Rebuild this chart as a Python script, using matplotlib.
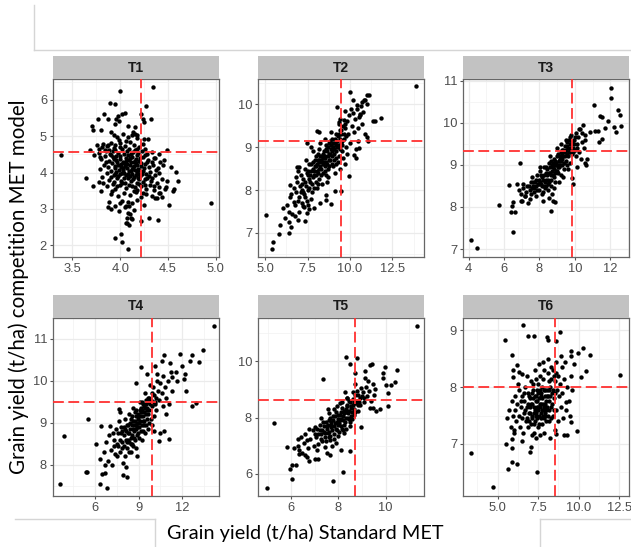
import matplotlib
matplotlib.use('Agg')
import matplotlib.pyplot as plt
from matplotlib.ticker import AutoMinorLocator
from matplotlib.lines import Line2D

plt.rcParams['font.family'] = ['Liberation Sans', 'DejaVu Sans']

# --- data (x = Standard MET, y = competition MET model) ---
t1_points = [
    (3.385, 4.48), (4.0, 6.23), (4.34, 6.36), (3.89, 5.92), (3.95, 5.89), (4.27, 5.83),
    (3.83, 5.62), (3.87, 5.46), (3.77, 5.46), (4.05, 5.64), (4.02, 5.6), (4.22, 5.62),
    (4.24, 5.48), (4.25, 5.39), (4.32, 5.48), (3.98, 5.54), (3.96, 5.48), (3.99, 5.41),
    (3.70, 5.27), (3.72, 5.18), (3.80, 5.16), (3.90, 5.12), (3.94, 5.33), (4.13, 5.12),
    (4.15, 5.24), (4.08, 5.27), (4.25, 4.93), (4.29, 4.91), (4.15, 5.07), (4.18, 5.03),
    (3.76, 4.75), (3.78, 4.66), (3.81, 4.71), (3.87, 4.77), (3.84, 4.62), (3.68, 4.63),
    (3.73, 4.48), (3.79, 4.43), (4.49, 4.62), (4.36, 4.41), (4.46, 4.34), (4.53, 4.16),
    (4.58, 4.02), (4.6, 3.78), (4.49, 3.78), (4.48, 3.61), (4.42, 3.43), (4.38, 3.29),
    (4.44, 3.34), (4.51, 3.11), (4.56, 3.56), (4.55, 3.48), (4.95, 3.15), (4.30, 2.75),
    (4.39, 2.70), (4.22, 2.68), (4.11, 2.75), (4.06, 2.61), (4.07, 2.75), (4.08, 2.88),
    (3.95, 2.19), (4.01, 2.31), (4.02, 2.08), (4.08, 1.90), (3.64, 3.84), (3.72, 3.63),
    (3.80, 3.48), (3.88, 3.20), (3.87, 3.05), (3.90, 3.0), (3.94, 3.08), (3.99, 2.93),
    (4.0, 3.16), (4.06, 3.07), (4.09, 3.07), (4.08, 3.2), (3.79, 4.1), (3.81, 3.87),
    (3.78, 3.75),
    (3.93, 5.02), (3.97, 4.97), (4.03, 5.05), (4.08, 4.99), (4.12, 5.04), (4.17, 4.95),
    (3.99, 4.9), (4.06, 4.88), (3.82, 4.78), (3.86, 4.72), (3.9, 4.82), (3.95, 4.76),
    (4.0, 4.8), (4.05, 4.73), (4.1, 4.84), (4.14, 4.76), (4.2, 4.7), (4.24, 4.79),
    (3.93, 4.68), (3.78, 4.55), (3.85, 4.6), (3.89, 4.52), (3.94, 4.63), (3.98, 4.55),
    (4.02, 4.64), (4.07, 4.58), (4.11, 4.51), (4.15, 4.62), (4.19, 4.55), (4.23, 4.6),
    (4.28, 4.52), (4.33, 4.57), (4.4, 4.5), (3.8, 4.38), (3.84, 4.45), (3.88, 4.32),
    (3.92, 4.42), (3.96, 4.35), (4.0, 4.46), (4.03, 4.3), (4.06, 4.41), (4.09, 4.34),
    (4.12, 4.44), (4.16, 4.37), (4.2, 4.31), (4.24, 4.43), (4.29, 4.35), (4.35, 4.4),
    (4.42, 4.3), (3.9, 4.48), (4.14, 4.29), (3.83, 4.2), (3.87, 4.15), (3.91, 4.25),
    (3.95, 4.12), (3.98, 4.22), (4.01, 4.16), (4.04, 4.27), (4.07, 4.13), (4.1, 4.21),
    (4.13, 4.15), (4.16, 4.26), (4.19, 4.11), (4.22, 4.19), (4.26, 4.23), (4.3, 4.14),
    (4.34, 4.2), (4.39, 4.12), (4.45, 4.22), (4.05, 4.19), (3.97, 4.28), (3.86, 3.98),
    (3.9, 4.05), (3.93, 3.93), (3.96, 4.02), (4.0, 3.95), (4.03, 4.06), (4.06, 3.92),
    (4.09, 4.03), (4.12, 3.96), (4.15, 4.08), (4.18, 3.99), (4.21, 3.91), (4.24, 4.04),
    (4.27, 3.95), (4.31, 4.01), (4.36, 3.93), (4.41, 4.0), (4.12, 4.1), (4.02, 4.0),
    (3.88, 3.8), (3.93, 3.74), (3.97, 3.86), (4.01, 3.78), (4.05, 3.71), (4.08, 3.84),
    (4.11, 3.76), (4.14, 3.88), (4.17, 3.72), (4.2, 3.82), (4.24, 3.75), (4.28, 3.86),
    (4.32, 3.78), (4.38, 3.72), (4.44, 3.82), (3.82, 3.71), (3.86, 3.62), (3.95, 3.55),
    (4.0, 3.66), (4.06, 3.58), (4.12, 3.64), (4.18, 3.52), (4.22, 3.62), (4.27, 3.56),
    (4.31, 3.67), (4.35, 3.52), (4.4, 3.6), (4.47, 3.55), (3.91, 3.5), (3.9, 3.42),
    (3.98, 3.35), (4.04, 3.45), (4.1, 3.38), (4.16, 3.46), (4.22, 3.33), (4.27, 3.42),
    (4.33, 3.36), (4.4, 3.45), (4.36, 3.29), (4.02, 3.22), (4.12, 3.15), (4.18, 3.25),
    (4.25, 3.1), (4.05, 3.05), (4.14, 2.98), (4.1, 2.85), (4.12, 2.72), (4.07, 2.62),
    (4.09, 2.57),
    (3.92, 4.58), (3.96, 4.45), (4.0, 4.38), (4.04, 4.52), (4.08, 4.47), (4.1, 4.4),
    (4.13, 4.56), (4.17, 4.48), (4.21, 4.4), (4.26, 4.47), (3.94, 4.18), (3.99, 4.08),
    (4.03, 4.13), (4.07, 4.24), (4.11, 4.05), (4.14, 4.19), (4.18, 4.22), (4.2, 4.06),
    (4.25, 4.12), (4.28, 4.3), (3.95, 3.97), (3.98, 3.9), (4.04, 3.85), (4.08, 3.96),
    (4.13, 3.82), (4.16, 3.93), (4.19, 3.86), (4.23, 3.97), (4.26, 3.81), (4.3, 3.9),
    (3.9, 3.88), (3.85, 4.3), (3.88, 4.62), (4.0, 4.7), (4.09, 4.65), (4.18, 4.66),
    (4.26, 4.65), (4.33, 4.28), (4.37, 4.07), (4.33, 3.85), (4.02, 3.7), (4.09, 3.65),
    (4.15, 3.6), (4.2, 3.68), (4.26, 3.65), (4.35, 3.62), (4.14, 3.5), (4.24, 3.45),
    (3.97, 3.62), (3.92, 3.68), (4.06, 4.33), (4.15, 4.33), (3.93, 4.36), (4.01, 4.24),
    (4.11, 4.28), (4.22, 4.26), (4.04, 3.99), (4.17, 4.03), (4.1, 3.9), (4.2, 3.97),
]

t2_points = [
    (5.05, 7.41), (5.4, 6.63), (5.48, 6.78), (5.83, 6.98), (5.87, 7.19), (6.07, 7.59),
    (6.19, 7.35), (6.43, 7.48), (6.43, 7.01), (6.47, 7.83), (6.47, 8.12), (6.72, 7.73),
    (6.78, 7.40), (6.92, 7.31), (6.98, 7.5), (6.82, 8.31), (6.86, 8.53), (7.02, 8.53),
    (7.22, 7.62), (7.38, 7.27), (7.46, 7.46), (7.51, 7.66), (7.61, 7.56), (7.91, 7.58),
    (8.21, 7.70), (8.56, 7.77), (8.9, 7.68), (8.56, 7.89), (9.1, 7.97), (9.48, 7.97),
    (7.46, 9.09), (8.07, 9.38), (8.17, 9.36), (9.24, 9.94), (9.34, 9.59), (9.69, 9.84),
    (9.40, 9.65), (9.63, 9.63), (9.99, 10.29), (10.15, 10.11), (10.39, 9.99), (10.68, 10.05),
    (10.88, 10.09), (11.02, 10.21), (11.14, 10.21), (10.98, 10.0), (10.74, 9.82), (10.58, 9.78),
    (10.54, 9.71), (11.34, 9.61), (11.48, 9.61), (11.83, 9.69), (13.89, 10.42), (10.98, 9.24),
    (11.04, 9.14), (10.35, 8.96), (10.52, 8.97), (10.23, 8.82), (10.35, 8.74), (9.95, 8.34),
    (6.85, 7.95), (6.9, 8.2), (7.0, 7.85), (7.05, 8.1), (7.1, 8.35), (7.15, 7.7),
    (7.2, 8.0), (6.95, 8.45), (7.25, 8.25), (7.3, 7.9), (7.35, 8.5), (7.4, 8.1),
    (7.45, 7.75), (7.5, 8.35), (7.55, 8.0), (7.6, 8.6), (7.28, 7.6), (7.42, 8.7),
    (7.65, 8.2), (7.7, 8.45), (7.75, 7.95), (7.8, 8.65), (7.85, 8.3), (7.9, 8.05),
    (7.95, 8.55), (8.0, 8.8), (7.68, 7.8), (7.82, 8.9), (7.98, 8.2), (7.72, 9.0),
    (8.05, 8.45), (8.1, 8.7), (8.15, 8.25), (8.2, 8.95), (8.25, 8.55), (8.3, 8.35),
    (8.35, 8.8), (8.4, 8.6), (8.08, 8.05), (8.22, 9.1), (8.38, 8.15), (8.12, 8.85),
    (8.28, 8.7), (8.18, 8.5), (8.45, 8.9), (8.5, 8.45), (8.55, 8.75), (8.6, 9.05),
    (8.65, 8.6), (8.7, 8.3), (8.75, 8.85), (8.8, 9.15), (8.48, 8.65), (8.62, 8.2),
    (8.72, 9.0), (8.58, 8.95), (8.68, 8.8), (8.52, 9.2), (8.85, 8.7), (8.9, 8.95),
    (8.95, 9.2), (9.0, 8.55), (9.05, 8.85), (9.1, 9.1), (9.15, 8.75), (9.2, 9.3),
    (8.88, 9.35), (9.02, 9.0), (9.12, 8.4), (9.18, 9.05), (8.92, 8.6), (9.25, 9.0),
    (9.3, 9.25), (9.35, 8.8), (9.4, 9.4), (9.45, 9.1), (9.5, 9.3), (9.55, 8.9),
    (9.6, 9.5), (9.28, 8.65), (9.42, 8.5), (9.52, 9.15), (9.38, 9.55), (9.58, 8.75),
    (9.65, 9.2), (9.7, 9.45), (9.75, 9.0), (9.8, 9.6), (9.9, 9.3), (9.95, 9.75),
    (10.0, 9.1), (10.1, 9.5), (10.15, 9.8), (9.85, 8.85), (10.05, 9.9), (9.72, 8.6),
    (10.25, 9.35), (10.3, 9.65), (10.4, 9.9), (10.5, 9.45), (10.6, 9.75), (10.7, 9.55),
    (10.8, 10.1), (10.9, 9.3), (10.45, 9.15), (10.65, 9.95), (6.3, 7.65), (6.5, 7.9),
    (6.6, 7.45), (6.7, 8.05), (6.4, 7.25), (6.75, 7.65), (6.55, 7.15),
    (7.52, 8.45), (7.62, 8.35), (7.7, 8.6), (7.78, 8.15), (7.88, 8.45), (7.92, 8.7),
    (8.02, 8.35), (8.06, 8.6), (8.14, 8.4), (8.16, 8.65), (8.24, 8.8), (8.32, 8.5),
    (8.34, 8.65), (8.42, 8.85), (8.44, 8.4), (8.5, 8.8), (8.54, 8.55), (8.6, 8.65),
    (8.64, 8.9), (8.7, 8.5), (8.74, 8.7), (8.78, 8.55), (8.82, 8.85), (8.86, 9.05),
    (8.94, 8.8), (8.98, 9.1), (9.04, 8.7), (9.08, 8.95), (9.14, 9.2), (9.2, 8.9),
    (9.22, 9.15), (9.3, 9.05), (9.34, 9.3), (9.4, 8.95), (9.44, 9.2), (9.5, 9.4),
    (9.56, 9.05), (9.62, 9.3), (9.68, 9.55), (9.74, 9.25), (7.58, 8.25), (7.8, 8.5),
    (8.0, 8.55), (8.2, 8.7), (8.4, 8.75), (8.56, 8.35), (8.76, 9.1), (8.96, 8.9),
    (9.16, 8.6), (9.36, 9.0), (7.35, 8.2), (7.15, 8.15), (7.25, 7.95), (7.45, 8.4),
    (6.95, 7.75), (7.1, 7.95), (7.38, 7.85), (7.6, 8.05), (7.9, 8.35), (8.1, 8.15),
]

t3_points = [
    (4.13, 7.22), (4.45, 7.02), (5.69, 8.04), (6.37, 7.87), (6.64, 7.88), (6.5, 7.41),
    (6.31, 8.53), (6.45, 8.02), (6.5, 8.11), (6.92, 9.05), (6.71, 8.54), (6.82, 8.40),
    (6.98, 8.14), (7.17, 8.26), (8.68, 7.9), (8.78, 8.14), (8.87, 8.11), (8.53, 8.22),
    (9.91, 8.55), (9.82, 8.68), (10.10, 8.96), (10.58, 9.04), (10.64, 9.0), (10.67, 9.15),
    (10.58, 9.58), (10.86, 9.78), (11.15, 9.81), (11.11, 10.42), (11.43, 10.17), (11.53, 10.13),
    (11.3, 9.81), (11.53, 9.62), (11.34, 9.54), (11.87, 10.05), (12.04, 10.83), (12.04, 10.59),
    (12.19, 9.9), (12.34, 9.78), (12.44, 10.3), (12.57, 10.19), (12.61, 9.93), (11.72, 9.87),
    (6.95, 8.3), (7.0, 8.15), (7.1, 8.45), (7.2, 8.25), (7.3, 8.5), (7.35, 8.1),
    (7.05, 8.55), (7.25, 8.35), (7.45, 8.4), (7.5, 8.6), (7.55, 8.3), (7.6, 8.7),
    (7.7, 8.45), (7.75, 8.6), (7.8, 8.25), (7.85, 8.75), (7.65, 8.5), (7.48, 8.2),
    (7.9, 8.55), (7.95, 8.65), (8.0, 8.4), (8.05, 8.85), (8.1, 8.55), (8.15, 8.7),
    (8.2, 8.35), (8.25, 8.95), (8.3, 8.6), (8.35, 8.8), (8.4, 8.5), (8.02, 8.95),
    (8.18, 8.15), (8.28, 8.75), (8.12, 8.3), (8.45, 8.9), (8.5, 8.65), (8.55, 9.05),
    (8.6, 8.8), (8.65, 8.5), (8.7, 9.0), (8.75, 8.75), (8.8, 9.15), (8.85, 8.9),
    (8.9, 8.6), (8.48, 8.4), (8.62, 9.2), (8.72, 8.3), (8.58, 8.95), (8.82, 8.45),
    (8.68, 9.1), (8.95, 9.05), (9.0, 8.85), (9.05, 9.25), (9.1, 8.95), (9.15, 9.15),
    (9.2, 8.75), (9.25, 9.35), (9.3, 9.0), (9.35, 9.2), (9.4, 8.9), (8.98, 9.4),
    (9.12, 8.6), (9.22, 9.5), (9.32, 8.7), (9.08, 9.1), (9.28, 9.28), (9.45, 9.3),
    (9.5, 9.1), (9.55, 9.45), (9.6, 9.2), (9.65, 9.6), (9.7, 9.35), (9.75, 9.05),
    (9.8, 9.5), (9.85, 9.25), (9.48, 9.6), (9.62, 8.9), (9.78, 9.7), (9.58, 9.0),
    (9.9, 9.4), (9.95, 9.6), (10.0, 9.35), (10.05, 9.75), (10.1, 9.5), (10.2, 9.65),
    (10.25, 9.3), (10.3, 9.85), (10.4, 9.55), (10.45, 9.95), (10.5, 9.4), (10.55, 9.7),
    (10.08, 9.2), (10.35, 9.15),
    (8.06, 8.6), (8.14, 8.5), (8.22, 8.65), (8.32, 8.45), (8.38, 8.65), (8.44, 8.75),
    (8.52, 8.8), (8.56, 8.6), (8.64, 8.75), (8.7, 8.85), (8.76, 8.95), (8.8, 8.7),
    (8.86, 8.8), (8.9, 9.0), (8.94, 8.85), (9.0, 9.0), (9.04, 8.95), (9.1, 9.1),
    (9.14, 9.0), (9.18, 9.2), (9.24, 9.1), (9.3, 9.15), (9.34, 9.35), (9.38, 9.05),
    (9.44, 9.2), (9.5, 9.35), (9.54, 9.25), (9.6, 9.4), (9.66, 9.3), (9.7, 9.5),
    (9.76, 9.4), (9.82, 9.35), (9.86, 9.55), (9.92, 9.3), (9.98, 9.5), (8.26, 8.5),
    (8.46, 8.55), (8.66, 8.65), (8.86, 9.1), (9.06, 8.8), (7.58, 8.45), (7.68, 8.35),
    (7.78, 8.5), (7.88, 8.4), (7.98, 8.55), (7.42, 8.5), (7.62, 8.6), (7.82, 8.65),
    (8.08, 8.75), (8.36, 8.95), (9.44, 9.45), (9.2, 9.3), (9.0, 9.2), (8.78, 9.05),
    (9.56, 9.55), (9.72, 9.65), (10.02, 9.65), (10.15, 9.4), (10.22, 9.85), (10.38, 9.75),
]

t4_points = [
    (3.62, 7.55), (3.86, 8.68), (5.51, 9.09), (5.41, 7.84), (5.5, 7.84), (6.12, 8.50),
    (6.35, 8.14), (6.35, 7.55), (6.52, 7.79), (6.82, 7.46), (6.68, 7.8), (6.40, 8.93),
    (7.04, 8.93), (7.69, 9.32), (7.76, 9.26), (8.16, 7.94), (8.24, 7.71), (7.93, 7.75),
    (8.87, 8.2), (8.82, 9.95), (9.18, 10.32), (9.58, 10.15), (10.16, 10.35), (10.28, 10.15),
    (10.64, 10.48), (10.72, 10.61), (11.18, 10.41), (11.29, 10.09), (11.58, 10.21), (11.66, 9.99),
    (11.86, 10.64), (11.98, 10.35), (12.16, 10.15), (12.12, 10.03), (12.24, 9.76), (12.52, 10.46),
    (12.66, 10.61), (12.64, 9.40), (12.94, 9.48), (13.11, 10.45), (13.39, 10.72), (14.16, 11.31),
    (10.40, 8.57), (11.11, 8.61), (10.75, 8.81), (10.45, 8.75), (10.05, 8.81),
    (6.6, 8.3), (6.8, 8.55), (6.9, 8.1), (7.0, 8.7), (7.1, 8.35), (7.2, 8.0),
    (7.3, 8.6), (7.4, 8.25), (6.7, 8.0), (7.45, 8.85), (7.55, 8.5), (7.6, 8.75),
    (7.7, 8.3), (7.8, 8.9), (7.9, 8.55), (8.0, 8.7), (8.1, 8.2), (8.2, 8.95),
    (7.65, 9.05), (7.85, 8.4), (8.05, 9.1), (8.25, 8.6), (7.95, 8.05), (8.15, 8.8),
    (8.35, 8.75), (8.4, 9.0), (8.5, 8.5), (8.55, 9.15), (8.6, 8.85), (8.7, 8.65),
    (8.75, 9.25), (8.8, 8.95), (8.9, 8.7), (8.95, 9.1), (8.45, 8.3), (8.65, 9.35),
    (8.85, 8.4), (8.38, 9.2), (8.58, 8.7), (8.78, 9.05), (8.92, 8.9), (9.05, 9.0),
    (9.1, 9.3), (9.15, 8.8), (9.2, 9.15), (9.3, 9.45), (9.35, 8.95), (9.4, 9.25),
    (9.5, 9.55), (9.55, 9.1), (9.6, 9.35), (9.65, 8.85), (9.25, 8.6), (9.45, 9.7),
    (9.08, 9.5), (9.28, 9.05), (9.62, 9.6), (9.18, 9.35), (9.42, 8.75), (9.75, 9.3),
    (9.8, 9.55), (9.85, 9.1), (9.9, 9.7), (9.95, 9.4), (10.0, 9.85), (10.1, 9.5),
    (10.2, 9.3), (10.3, 9.75), (10.4, 9.55), (10.45, 9.95), (9.78, 9.9), (10.05, 9.15),
    (10.25, 10.0), (9.92, 8.95), (10.6, 9.7), (10.7, 9.4), (10.8, 9.85), (10.9, 9.6),
    (11.0, 10.0), (11.1, 9.45), (11.3, 9.75), (10.65, 10.1), (11.2, 10.2), (10.85, 9.2),
    (8.02, 8.45), (8.12, 8.6), (8.22, 8.4), (8.3, 8.75), (8.36, 8.55), (8.42, 8.85),
    (8.48, 8.65), (8.52, 8.95), (8.58, 8.5), (8.62, 9.05), (8.68, 8.8), (8.72, 8.95),
    (8.76, 8.6), (8.82, 9.15), (8.86, 8.85), (8.88, 9.0), (8.94, 8.75), (8.98, 9.2),
    (9.02, 8.9), (9.06, 9.15), (9.12, 9.05), (9.16, 9.25), (9.22, 8.95), (9.26, 9.3),
    (9.32, 9.15), (9.36, 9.4), (9.38, 9.05), (9.44, 9.35), (9.48, 9.2), (9.52, 9.45),
    (9.58, 9.3), (9.64, 9.5), (9.68, 9.2), (9.72, 9.6), (9.82, 9.45), (9.88, 9.55),
    (9.98, 9.5), (10.08, 9.65), (10.15, 9.45), (10.22, 9.6), (7.75, 8.6), (7.82, 8.75),
    (7.9, 8.8), (7.98, 8.9), (8.08, 8.85), (8.18, 8.55), (8.28, 8.95), (8.32, 8.3),
    (8.46, 9.1), (8.64, 8.45), (8.84, 9.3), (9.04, 8.65), (9.24, 9.5), (9.34, 8.8),
    (9.54, 8.95), (9.74, 9.0), (7.5, 8.2), (7.6, 8.45), (7.35, 8.45), (7.25, 8.75),
]

t5_points = [
    (4.98, 5.48), (5.25, 7.81), (5.83, 6.94), (5.93, 6.18), (6.03, 5.82), (6.03, 6.33),
    (6.21, 6.33), (6.31, 6.71), (6.31, 6.83), (6.28, 7.25), (6.57, 6.68), (6.68, 6.59),
    (6.74, 6.45), (6.99, 6.54), (7.13, 6.53), (7.34, 9.37), (7.53, 6.74), (7.63, 6.66),
    (7.77, 5.74), (8.19, 6.06), (8.09, 6.83), (8.47, 6.80), (8.33, 10.17), (8.47, 9.91),
    (8.80, 10.11), (8.69, 9.58), (8.97, 7.65), (9.32, 9.87), (9.42, 9.89), (9.11, 9.66),
    (9.89, 9.58), (9.96, 9.81), (9.89, 9.40), (10.03, 9.16), (10.10, 8.87), (10.10, 8.40),
    (10.24, 9.14), (10.38, 9.28), (10.48, 9.69), (11.34, 11.26), (9.60, 8.24), (9.75, 8.31),
    (9.46, 8.34),
    (6.55, 7.1), (6.6, 7.4), (6.7, 6.9), (6.8, 7.25), (6.9, 7.55), (6.95, 7.0),
    (6.75, 7.6), (6.65, 7.2), (7.05, 7.3), (7.1, 7.6), (7.15, 7.05), (7.2, 7.75),
    (7.25, 7.4), (7.3, 7.15), (7.35, 7.85), (7.4, 7.5), (7.45, 6.95), (7.5, 7.7),
    (7.08, 6.85), (7.28, 8.0), (7.42, 7.3), (7.55, 7.45), (7.6, 7.9), (7.65, 7.2),
    (7.7, 7.65), (7.75, 8.05), (7.8, 7.4), (7.85, 7.8), (7.9, 8.2), (7.95, 7.55),
    (8.0, 7.95), (7.58, 8.15), (7.72, 7.0), (7.88, 7.1), (7.68, 7.85), (7.82, 8.3),
    (7.98, 7.75), (8.05, 8.1), (8.1, 7.7), (8.15, 8.35), (8.2, 7.9), (8.25, 8.15),
    (8.3, 7.6), (8.35, 8.45), (8.4, 8.0), (8.45, 8.25), (8.5, 7.85), (8.08, 8.5),
    (8.22, 7.45), (8.38, 8.7), (8.48, 8.55), (8.12, 7.95), (8.32, 8.2), (8.28, 8.9),
    (8.55, 8.4), (8.6, 8.65), (8.65, 8.1), (8.7, 8.8), (8.75, 8.5), (8.8, 8.95),
    (8.85, 8.25), (8.9, 8.7), (8.95, 9.05), (8.58, 7.95), (8.72, 9.2), (8.92, 8.45),
    (8.68, 8.6), (8.82, 8.8), (9.05, 8.9), (9.1, 8.55), (9.15, 9.1), (9.2, 8.75),
    (9.25, 9.3), (9.3, 8.95), (9.4, 8.6), (9.45, 9.2), (9.5, 8.8), (9.55, 9.0),
    (9.12, 9.4), (9.35, 8.35), (6.1, 6.9), (6.3, 7.0), (6.45, 6.75), (6.4, 7.3),
    (7.32, 7.55), (7.38, 7.7), (7.44, 7.45), (7.48, 7.85), (7.52, 7.6), (7.56, 7.75),
    (7.62, 7.5), (7.66, 8.0), (7.7, 7.75), (7.74, 7.55), (7.78, 7.9), (7.82, 7.7),
    (7.86, 8.05), (7.9, 7.6), (7.94, 7.85), (7.96, 8.1), (8.02, 7.8), (8.06, 7.9),
    (8.1, 8.2), (8.14, 7.6), (8.18, 8.05), (8.22, 8.25), (8.26, 7.85), (8.3, 8.3),
    (8.34, 8.0), (8.38, 8.4), (8.42, 8.15), (8.46, 7.95), (8.52, 8.35), (8.56, 8.2),
    (8.6, 8.45), (8.64, 8.3), (8.68, 8.5), (8.72, 8.2), (8.78, 8.6), (8.84, 8.45),
    (7.6, 7.3), (7.8, 7.25), (8.0, 7.35), (8.2, 7.55), (7.2, 7.55), (7.26, 7.25),
    (7.12, 7.4), (7.0, 7.4), (7.02, 7.65), (8.44, 8.6), (8.62, 8.9), (8.88, 8.55),
    (8.98, 8.75), (9.08, 8.7), (7.54, 8.3), (7.92, 8.4), (8.16, 8.55), (8.36, 8.7),
    (7.46, 7.15), (7.66, 7.35), (8.04, 7.5), (8.24, 7.75), (8.48, 7.7), (8.54, 8.05),
]

t6_points = [
    (3.36, 6.84), (4.73, 6.23), (5.45, 8.84), (6.54, 9.09), (6.89, 8.91), (7.26, 8.91),
    (5.86, 8.56), (6.19, 8.39), (5.97, 8.31), (5.92, 8.18), (6.29, 8.27), (6.48, 8.24),
    (5.99, 7.2), (5.86, 7.09), (5.88, 6.92), (5.51, 6.99), (5.62, 6.56), (5.86, 6.68),
    (6.17, 6.65), (7.42, 6.5), (7.0, 6.85), (7.09, 6.95), (8.04, 8.88), (8.08, 8.84),
    (8.59, 8.81), (8.86, 8.98), (9.52, 8.64), (9.52, 8.55), (9.99, 8.6), (10.3, 8.69),
    (10.71, 8.56), (10.13, 8.18), (10.44, 8.28), (12.54, 8.22), (9.21, 7.73), (9.93, 7.23),
    (9.56, 7.38), (9.31, 7.15), (9.07, 7.15), (8.59, 7.17),
    (5.6, 7.45), (5.7, 7.6), (5.8, 7.3), (5.9, 7.75), (5.95, 7.5), (6.0, 7.25),
    (6.05, 7.6), (6.1, 7.85), (6.15, 7.4), (6.2, 7.7), (6.3, 7.5), (6.35, 7.95),
    (6.4, 7.3), (6.45, 7.65), (6.5, 7.85), (6.55, 7.2), (6.6, 7.55), (6.65, 7.75),
    (6.7, 8.0), (6.75, 7.4), (6.8, 7.65), (6.85, 7.9), (6.9, 7.3), (6.95, 7.55),
    (7.0, 7.8), (7.05, 8.1), (7.1, 7.45), (7.15, 7.7), (7.2, 7.95), (7.25, 7.2),
    (7.3, 7.6), (7.35, 7.85), (7.4, 7.5), (7.45, 7.75), (7.5, 8.05), (7.55, 7.35),
    (7.6, 7.65), (7.65, 7.9), (7.7, 7.55), (7.75, 7.8), (7.8, 8.15), (7.85, 7.45),
    (7.9, 7.7), (7.95, 7.95), (8.0, 7.6), (8.05, 7.85), (8.1, 8.25), (8.15, 7.4),
    (8.2, 7.75), (8.25, 8.0), (8.3, 7.65), (8.35, 7.9), (8.4, 8.3), (8.45, 7.5),
    (8.5, 7.8), (8.55, 8.1), (8.6, 7.6), (8.65, 7.95), (8.7, 8.2), (8.75, 7.4),
    (8.8, 7.85), (8.85, 8.05), (8.9, 7.65), (8.95, 8.35), (9.0, 7.9), (9.1, 8.15),
    (9.2, 7.6), (9.3, 8.0), (9.4, 7.75), (9.5, 8.2), (7.12, 7.15), (7.38, 7.1),
    (7.62, 7.15), (7.88, 7.2), (6.82, 8.2), (7.28, 8.3), (7.58, 8.4), (7.78, 8.45),
    (8.08, 8.5), (6.48, 7.05), (7.52, 7.6), (7.68, 7.7), (7.42, 7.65), (7.82, 7.6),
    (7.22, 7.55), (7.92, 7.5), (7.48, 7.9), (7.72, 8.0), (6.98, 7.65), (8.18, 7.95),
    (8.62, 8.45), (8.9, 8.55), (9.15, 8.45), (9.6, 7.95), (9.7, 8.4), (8.52, 7.25),
    (8.22, 7.1), (9.05, 7.45), (9.45, 7.5), (6.25, 8.05),
    (6.82, 7.45), (6.88, 7.7), (6.92, 7.85), (6.96, 7.4), (7.02, 7.55), (7.06, 7.7),
    (7.1, 7.9), (7.14, 7.5), (7.18, 7.8), (7.22, 7.35), (7.26, 7.65), (7.3, 7.85),
    (7.34, 7.55), (7.38, 7.75), (7.42, 7.95), (7.46, 7.45), (7.5, 7.65), (7.54, 7.8),
    (7.56, 7.5), (7.6, 7.95), (7.64, 7.7), (7.66, 7.45), (7.7, 7.85), (7.74, 7.6),
    (7.78, 7.7), (7.8, 7.5), (7.84, 7.95), (7.86, 7.65), (7.9, 7.85), (7.94, 7.55),
    (7.98, 7.75), (8.02, 7.95), (8.06, 7.65), (8.1, 7.5), (8.12, 7.85), (8.16, 8.1),
    (8.2, 7.6), (8.24, 7.85), (8.28, 7.45), (8.32, 8.15), (8.36, 7.7), (8.42, 7.95),
    (8.46, 8.2), (8.5, 7.6), (8.56, 7.9), (8.6, 8.25), (6.72, 7.6), (6.62, 7.9),
    (6.52, 7.45), (6.42, 7.75), (7.04, 7.35), (7.28, 7.4), (7.52, 7.3), (7.76, 7.35),
    (8.0, 7.4), (7.16, 8.05), (7.4, 8.15), (7.62, 8.2), (7.88, 8.3), (8.3, 8.35),
]

panel_names = ['T1', 'T2', 'T3', 'T4', 'T5', 'T6']
panel_points = [t1_points, t2_points, t3_points, t4_points, t5_points, t6_points]
# mean lines (vertical = Standard MET mean, horizontal = competition model mean)
mean_x = [4.22, 9.5, 9.82, 9.94, 8.71, 8.55]
mean_y = [4.56, 9.14, 9.33, 9.49, 8.63, 8.0]

x_ticks = [[3.5, 4.0, 4.5, 5.0], [5.0, 7.5, 10.0, 12.5], [4, 6, 8, 10, 12],
           [6, 9, 12], [6, 8, 10], [5.0, 7.5, 10.0, 12.5]]
x_labels = [['3.5', '4.0', '4.5', '5.0'], ['5.0', '7.5', '10.0', '12.5'], ['4', '6', '8', '10', '12'],
            ['6', '9', '12'], ['6', '8', '10'], ['5.0', '7.5', '10.0', '12.5']]
y_ticks = [[2, 3, 4, 5, 6], [7, 8, 9, 10], [7, 8, 9, 10, 11], [8, 9, 10, 11], [6, 8, 10], [7, 8, 9]]

x_lims = [(3.30, 5.03), (4.6, 14.35), (3.7, 13.05), (3.16, 14.5), (4.6, 11.62), (2.88, 13.1)]
y_lims = [(1.68, 6.57), (6.44, 10.59), (6.81, 11.04), (7.26, 11.49), (5.21, 11.54), (6.08, 9.22)]

W, H = 631, 547
fig = plt.figure(figsize=(W / 100, H / 100), dpi=100)

col_left = [53.3, 258.3, 463.3]
col_width = 165.5
row_top = [79, 318]
panel_h = 178
strip_h = 23

for i, name in enumerate(panel_names):
    r, c = divmod(i, 3)
    left = col_left[c] / W
    bottom = 1 - (row_top[r] + panel_h) / H
    ax = fig.add_axes([left, bottom, col_width / W, panel_h / H])
    xs = [p[0] for p in panel_points[i]]
    ys = [p[1] for p in panel_points[i]]
    ax.scatter(xs, ys, s=10, color='black', linewidths=0, zorder=3)
    ax.axvline(mean_x[i], color='#FF3030', lw=1.3, dashes=(6, 2.5), zorder=4)
    ax.axhline(mean_y[i], color='#FF3030', lw=1.3, dashes=(6, 2.5), zorder=4)
    ax.set_xlim(*x_lims[i])
    ax.set_ylim(*y_lims[i])
    ax.set_xticks(x_ticks[i])
    ax.set_xticklabels(x_labels[i])
    ax.set_yticks(y_ticks[i])
    ax.xaxis.set_minor_locator(AutoMinorLocator(2))
    ax.yaxis.set_minor_locator(AutoMinorLocator(2))
    ax.grid(which='major', color='#EBEBEB', lw=0.9, zorder=0)
    ax.grid(which='minor', color='#F2F2F2', lw=0.5, zorder=0)
    ax.set_axisbelow(True)
    ax.tick_params(which='major', length=2.5, width=0.8, color='#555555',
                   labelsize=9.3, labelcolor='#4D4D4D', pad=2)
    ax.tick_params(which='minor', length=0)
    for sp in ax.spines.values():
        sp.set_color('#666666')
        sp.set_linewidth(0.9)

    sax = fig.add_axes([left, 1 - row_top[r] / H, col_width / W, strip_h / H])
    sax.set_facecolor('#C2C2C2')
    sax.set_xticks([])
    sax.set_yticks([])
    for sp in sax.spines.values():
        sp.set_visible(False)
    sax.text(0.5, 0.5, name, ha='center', va='center', fontsize=10,
             fontweight='bold', color='#1A1A1A', transform=sax.transAxes)

fig.text(19 / W, 1 - 287 / H, 'Grain yield (t/ha) competition MET model',
         rotation=90, ha='center', va='center', fontsize=14.8,
         family=['Lato', 'DejaVu Sans'], color='black')
fig.text(305 / W, 1 - 533 / H, 'Grain yield (t/ha) Standard MET',
         ha='center', va='center', fontsize=14.3,
         family=['Lato', 'DejaVu Sans'], color='black')

# slide frame lines around the image
frame = '#D5D5D5'
fig.add_artist(Line2D([34 / W, 34 / W], [1 - 5 / H, 1 - 50 / H], color=frame, lw=1))
fig.add_artist(Line2D([34 / W, 1.0], [1 - 50 / H, 1 - 50 / H], color=frame, lw=1))
fig.add_artist(Line2D([15 / W, 155 / W], [1 - 519 / H, 1 - 519 / H], color=frame, lw=1))
fig.add_artist(Line2D([155 / W, 155 / W], [1 - 519 / H, 0], color=frame, lw=1))
fig.add_artist(Line2D([540 / W, 1.0], [1 - 519 / H, 1 - 519 / H], color=frame, lw=1))
fig.add_artist(Line2D([540 / W, 540 / W], [1 - 519 / H, 0], color=frame, lw=1))

fig.savefig('out.png', dpi=100)
